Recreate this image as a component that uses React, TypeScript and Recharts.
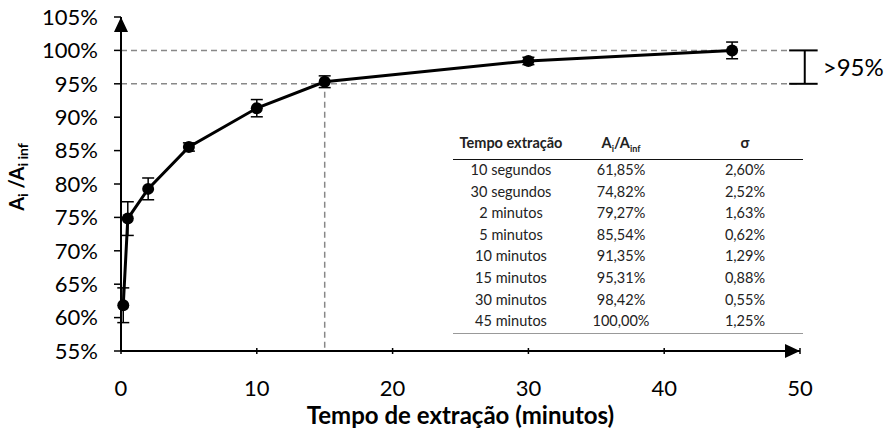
import { ComposedChart, Line, ErrorBar, XAxis, YAxis, ReferenceLine, ReferenceDot } from 'recharts';

document.body.style.margin = '0';

// extraction times (labels as shown in the table, positions in minutes)
const timeLabels = ['10 segundos', '30 segundos', '2 minutos', '5 minutos', '10 minutos', '15 minutos', '30 minutos', '45 minutos'];
const minutes = [10 / 60, 0.5, 2, 5, 10, 15, 30, 45];
// Ai/Ainf in percent and its standard deviation
const ratio = [61.85, 74.82, 79.27, 85.54, 91.35, 95.31, 98.42, 100.0];
const sigma = [2.6, 2.52, 1.63, 0.62, 1.29, 0.88, 0.55, 1.25];

const xTicks = [0, 10, 20, 30, 40, 50];
const yTicks = [55, 60, 65, 70, 75, 80, 85, 90, 95, 100, 105];

const data = minutes.map((m, i) => ({ t: m, v: ratio[i], err: sigma[i] }));

const FONT = 'Lato, "Open Sans", sans-serif';
const pct = (n: number) => n.toFixed(2).replace('.', ',') + '%';

function YTitle() {
  const x = 24;
  const y = 177;
  return (
    <text x={x} y={y} transform={`rotate(-90, ${x}, ${y})`} textAnchor="middle" fontFamily={FONT} fontWeight={700} fontSize={20} fill="#000">
      A<tspan fontSize={14} dy={4}>i</tspan>
      <tspan dy={-4}> /A</tspan>
      <tspan fontSize={14} dy={4}>i inf</tspan>
    </text>
  );
}

const upArrow = (p: any) => (
  <path d={`M${p.cx - 7},${p.cy + 15} L${p.cx},${p.cy} L${p.cx + 7},${p.cy + 15} Z`} fill="#000" />
);
const rightArrow = (p: any) => (
  <path d={`M${p.cx - 15},${p.cy - 7} L${p.cx},${p.cy} L${p.cx - 15},${p.cy + 7} Z`} fill="#000" />
);

const cell = (center: number, width = 130): React.CSSProperties => ({
  position: 'absolute',
  left: center - width / 2,
  width,
  textAlign: 'center',
});

function SummaryTable() {
  const cols = [58, 168, 292];
  const rowH = 21.6;
  return (
    <div style={{ position: 'absolute', left: 453, top: 131, width: 350, fontFamily: FONT, fontSize: 14.5, color: '#222' }}>
      <div style={{ position: 'relative', height: 28, borderBottom: '1.5px solid #111', fontWeight: 700 }}>
        <div style={{ ...cell(cols[0]), top: 3 }}>Tempo extração</div>
        <div style={{ ...cell(cols[1]), top: 3 }}>
          A<sub style={{ fontSize: 9 }}>i</sub>/A<sub style={{ fontSize: 9 }}>inf</sub>
        </div>
        <div style={{ ...cell(cols[2]), top: 3 }}>σ</div>
      </div>
      <div style={{ position: 'relative', height: rowH * timeLabels.length, borderBottom: '1px solid #999' }}>
        {timeLabels.map((lab, i) => (
          <div key={lab} style={{ position: 'absolute', top: i * rowH + 1, left: 0, width: 350, height: rowH }}>
            <div style={cell(cols[0])}>{lab}</div>
            <div style={cell(cols[1])}>{pct(ratio[i])}</div>
            <div style={cell(cols[2])}>{pct(sigma[i])}</div>
          </div>
        ))}
      </div>
    </div>
  );
}

export default function App() {
  const dash = { stroke: '#888', strokeWidth: 1.5, strokeDasharray: '6 4' };
  return (
    <div style={{ position: 'relative', width: 884, height: 431, background: '#fff' }}>
      <ComposedChart width={884} height={431} data={data} margin={{ top: 17, right: 84, left: 0, bottom: 0 }}>
        <XAxis
          type="number"
          dataKey="t"
          domain={[0, 50]}
          ticks={xTicks}
          height={80}
          axisLine={{ stroke: '#000', strokeWidth: 2 }}
          tickLine={{ stroke: '#000', strokeWidth: 1.5, transform: 'translate(0,-3)' }}
          tickSize={6}
          tickMargin={23}
          tick={{ fill: '#000', fontSize: 22, fontFamily: FONT }}
          label={{ value: 'Tempo de extração (minutos)', position: 'insideBottom', offset: 7, fill: '#000', fontSize: 24, fontWeight: 700, fontFamily: FONT }}
        />
        <YAxis
          type="number"
          domain={[55, 105]}
          ticks={yTicks}
          width={121}
          axisLine={{ stroke: '#000', strokeWidth: 2 }}
          tickLine={{ stroke: '#000', strokeWidth: 1.5 }}
          tickSize={7}
          tickMargin={16}
          tickFormatter={(v: number) => `${v}%`}
          tick={{ fill: '#000', fontSize: 22, fontFamily: FONT }}
          label={<YTitle />}
        />
        <ReferenceLine segment={[{ x: 0, y: 100 }, { x: 49.3, y: 100 }]} {...dash} ifOverflow="visible" />
        <ReferenceLine segment={[{ x: 0, y: 95 }, { x: 49.9, y: 95 }]} {...dash} ifOverflow="visible" />
        <ReferenceLine segment={[{ x: 15, y: 95.31 }, { x: 15, y: 55 }]} {...dash} ifOverflow="visible" />
        <ReferenceLine
          segment={[{ x: 50.35, y: 95 }, { x: 50.35, y: 100 }]}
          stroke="#000"
          strokeWidth={2}
          ifOverflow="visible"
          label={{ value: '>95%', position: 'right', offset: 18, fill: '#000', fontSize: 24, fontFamily: FONT }}
        />
        <ReferenceLine segment={[{ x: 49.2, y: 100 }, { x: 51.3, y: 100 }]} stroke="#000" strokeWidth={2} ifOverflow="visible" />
        <ReferenceLine segment={[{ x: 49.2, y: 95 }, { x: 51.3, y: 95 }]} stroke="#000" strokeWidth={2} ifOverflow="visible" />
        <ReferenceDot x={0} y={105} r={0} ifOverflow="visible" shape={upArrow} />
        <ReferenceDot x={50} y={55} r={0} ifOverflow="visible" shape={rightArrow} />
        <Line
          dataKey="v"
          stroke="#000"
          strokeWidth={3}
          dot={{ r: 6, fill: '#000', stroke: '#000', strokeWidth: 0 }}
          isAnimationActive={false}
        >
          <ErrorBar dataKey="err" direction="y" width={6} stroke="#000" strokeWidth={1.5} />
        </Line>
      </ComposedChart>
      <SummaryTable />
    </div>
  );
}
